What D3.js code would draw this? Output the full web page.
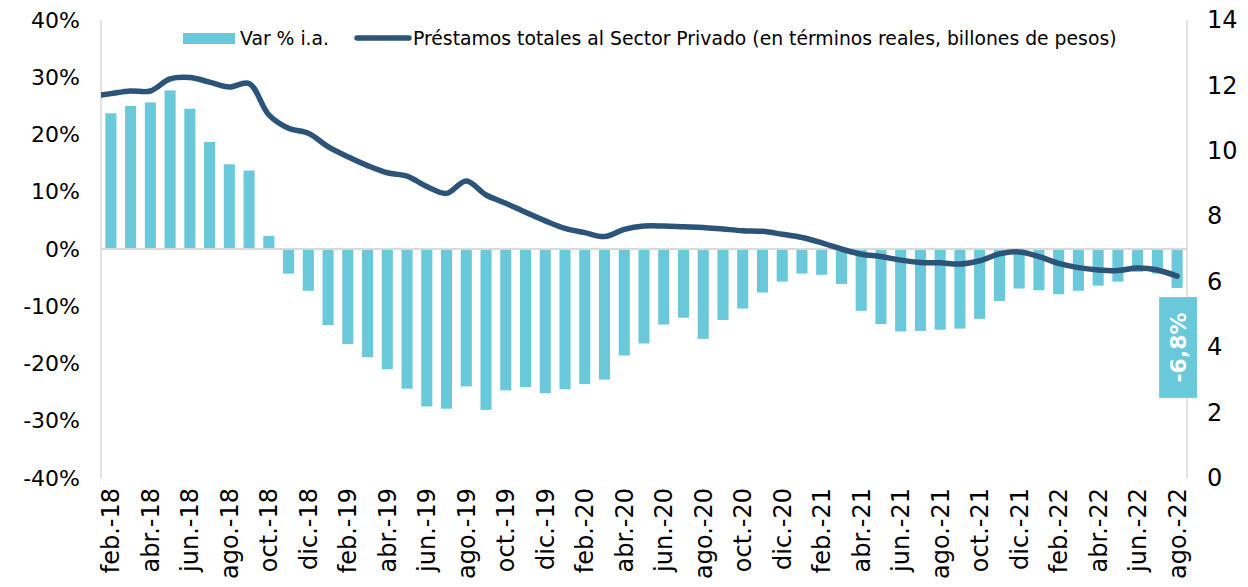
<!DOCTYPE html>
<html>
<head>
<meta charset="utf-8">
<script src="https://cdn.jsdelivr.net/npm/d3@7"></script>
<style>
  body { margin: 0; background: #fff; }
  text { font-family: "DejaVu Sans", Verdana, sans-serif; fill: #000; }
</style>
</head>
<body>
<div id="chart"></div>
<script>
// categories (monthly)
var months = [
  "feb.-18","mar.-18","abr.-18","may.-18","jun.-18","jul.-18","ago.-18","sep.-18","oct.-18","nov.-18","dic.-18",
  "ene.-19","feb.-19","mar.-19","abr.-19","may.-19","jun.-19","jul.-19","ago.-19","sep.-19","oct.-19","nov.-19","dic.-19",
  "ene.-20","feb.-20","mar.-20","abr.-20","may.-20","jun.-20","jul.-20","ago.-20","sep.-20","oct.-20","nov.-20","dic.-20",
  "ene.-21","feb.-21","mar.-21","abr.-21","may.-21","jun.-21","jul.-21","ago.-21","sep.-21","oct.-21","nov.-21","dic.-21",
  "ene.-22","feb.-22","mar.-22","abr.-22","may.-22","jun.-22","jul.-22","ago.-22"
];

// Var % i.a. (bars, left axis, in %)
var varIa = [
  23.7, 25.0, 25.6, 27.7, 24.5, 18.7, 14.8, 13.7, 2.3, -4.3, -7.3,
  -13.3, -16.6, -18.9, -21.0, -24.4, -27.5, -27.9, -24.0, -28.1, -24.7, -24.1, -25.2,
  -24.5, -23.6, -22.8, -18.6, -16.5, -13.2, -12.0, -15.7, -12.4, -10.4, -7.6, -5.7,
  -4.3, -4.5, -6.1, -10.8, -13.1, -14.4, -14.3, -14.1, -13.9, -12.2, -9.1, -6.9,
  -7.2, -7.9, -7.3, -6.4, -5.7, -4.0, -4.3, -6.8
];

// Préstamos totales (line, right axis) - series starts one month earlier
var lineMonths = ["ene.-18"].concat(months);
var prestamos = [
  11.66,
  11.75, 11.83, 11.83, 12.20, 12.24, 12.10, 11.95, 12.06, 11.10, 10.69, 10.54,
  10.13, 9.82, 9.55, 9.33, 9.23, 8.91, 8.70, 9.08, 8.65, 8.40, 8.12, 7.86,
  7.63, 7.50, 7.38, 7.60, 7.70, 7.70, 7.68, 7.66, 7.61, 7.56, 7.54, 7.45,
  7.35, 7.19, 7.00, 6.84, 6.77, 6.66, 6.59, 6.58, 6.54, 6.64, 6.85, 6.91,
  6.77, 6.56, 6.43, 6.36, 6.34, 6.42, 6.36, 6.17
];

var leftTicks = [-40, -30, -20, -10, 0, 10, 20, 30, 40];
var rightTicks = [0, 2, 4, 6, 8, 10, 12, 14];
var seriesNames = ["Var % i.a.", "Préstamos totales al Sector Privado (en términos reales, billones de pesos)"];
var lastLabel = "-6,8%";

var svgWidth = 1248;
var svgHeight = 587;
var margin = { top: 20, right: 61, bottom: 109, left: 101 };
var width = svgWidth - margin.left - margin.right;
var height = svgHeight - margin.top - margin.bottom;

var barColor = "#69c8da";
var lineColor = "#2c5479";
var axisColor = "#d9d9d9";

var svg = d3.select("#chart")
  .append("svg")
  .attr("width", svgWidth)
  .attr("height", svgHeight);

var chartGroup = svg.append("g")
  .attr("transform", `translate(${margin.left}, ${margin.top})`);

var xScale = d3.scaleBand()
  .domain(months)
  .range([0, width])
  .paddingInner(0.44)
  .paddingOuter(0.22);

var step = xScale.step();
var firstCenter = xScale(months[0]) + xScale.bandwidth() / 2;
var lastCenter = xScale(months[months.length - 1]) + xScale.bandwidth() / 2;

var xLine = d3.scalePoint()
  .domain(lineMonths)
  .range([firstCenter - step, lastCenter]);

var yLeft = d3.scaleLinear().domain([-40, 40]).range([height, 0]);
var yRight = d3.scaleLinear().domain([0, 14]).range([height, 0]);

svg.append("defs").append("clipPath")
  .attr("id", "plotClip")
  .append("rect")
  .attr("x", 0).attr("y", -10)
  .attr("width", width).attr("height", height + 20);

// bars
chartGroup.append("g")
  .selectAll("rect")
  .data(varIa)
  .enter()
  .append("rect")
  .attr("x", (d, i) => xScale(months[i]))
  .attr("width", xScale.bandwidth())
  .attr("y", d => yLeft(Math.max(0, d)))
  .attr("height", d => Math.abs(yLeft(d) - yLeft(0)))
  .attr("fill", barColor);

// axes lines
chartGroup.append("line")
  .attr("x1", 0).attr("x2", width)
  .attr("y1", yLeft(0)).attr("y2", yLeft(0))
  .attr("stroke", axisColor).attr("stroke-width", 2);

chartGroup.append("line")
  .attr("x1", 0).attr("x2", 0)
  .attr("y1", 0).attr("y2", height)
  .attr("stroke", axisColor).attr("stroke-width", 1.5);

chartGroup.append("line")
  .attr("x1", width).attr("x2", width)
  .attr("y1", 0).attr("y2", height)
  .attr("stroke", axisColor).attr("stroke-width", 1.5);

// line
var line = d3.line()
  .x((d, i) => xLine(lineMonths[i]))
  .y(d => yRight(d))
  .curve(d3.curveCatmullRom.alpha(0.5));

chartGroup.append("path")
  .datum(prestamos)
  .attr("clip-path", "url(#plotClip)")
  .attr("d", line)
  .attr("fill", "none")
  .attr("stroke", lineColor)
  .attr("stroke-width", 5.5)
  .attr("stroke-linecap", "round")
  .attr("stroke-linejoin", "round");

// left axis
var leftAxis = d3.axisLeft(yLeft)
  .tickValues(leftTicks)
  .tickSize(0)
  .tickPadding(21)
  .tickFormat(d => d + "%");

chartGroup.append("g")
  .call(leftAxis)
  .call(g => g.select(".domain").remove())
  .selectAll("text")
  .style("font-family", "DejaVu Sans, Verdana, sans-serif")
  .style("font-size", "22px")
  .attr("fill", "#000");

// right axis
var rightAxis = d3.axisRight(yRight)
  .tickValues(rightTicks)
  .tickSize(0)
  .tickPadding(20);

chartGroup.append("g")
  .attr("transform", `translate(${width},0)`)
  .call(rightAxis)
  .call(g => g.select(".domain").remove())
  .selectAll("text")
  .style("font-family", "DejaVu Sans, Verdana, sans-serif")
  .style("font-size", "24px")
  .attr("fill", "#000");

// bottom axis (every second month)
var bottomAxis = d3.axisBottom(xScale)
  .tickValues(months.filter((m, i) => i % 2 === 0))
  .tickSize(0)
  .tickPadding(0);

chartGroup.append("g")
  .attr("transform", `translate(0,${height})`)
  .call(bottomAxis)
  .call(g => g.select(".domain").remove())
  .selectAll("text")
  .attr("transform", "rotate(-90)")
  .attr("x", -10)
  .attr("y", 0)
  .attr("dy", "0.35em")
  .attr("text-anchor", "end")
  .style("font-family", "DejaVu Sans, Verdana, sans-serif")
  .style("font-size", "24px")
  .attr("fill", "#000");

// last value label
var lastX = xScale(months[months.length - 1]) + xScale.bandwidth() / 2 + 1;
var boxTop = yLeft(-8.4), boxBottom = yLeft(-26.0);
chartGroup.append("rect")
  .attr("x", lastX - 19)
  .attr("y", boxTop)
  .attr("width", 38)
  .attr("height", boxBottom - boxTop)
  .attr("fill", barColor);

chartGroup.append("text")
  .attr("transform", `translate(${lastX},${(boxTop + boxBottom) / 2}) rotate(-90)`)
  .attr("text-anchor", "middle")
  .attr("dy", "0.36em")
  .style("font-size", "22px")
  .style("font-weight", "bold")
  .style("fill", "#fff")
  .text(lastLabel);

// legend
var legend = svg.append("g").attr("transform", "translate(0,38)");
legend.append("rect")
  .attr("x", 183).attr("y", -5)
  .attr("width", 52).attr("height", 11)
  .attr("fill", barColor);
legend.append("text")
  .attr("x", 240).attr("y", 0)
  .attr("dy", "0.35em")
  .style("font-size", "18.8px")
  .text(seriesNames[0]);
legend.append("line")
  .attr("x1", 357).attr("x2", 409)
  .attr("y1", 0).attr("y2", 0)
  .attr("stroke", lineColor)
  .attr("stroke-width", 5.5)
  .attr("stroke-linecap", "round");
legend.append("text")
  .attr("x", 413).attr("y", 0)
  .attr("dy", "0.35em")
  .style("font-size", "18.8px")
  .text(seriesNames[1]);
</script>
</body>
</html>
